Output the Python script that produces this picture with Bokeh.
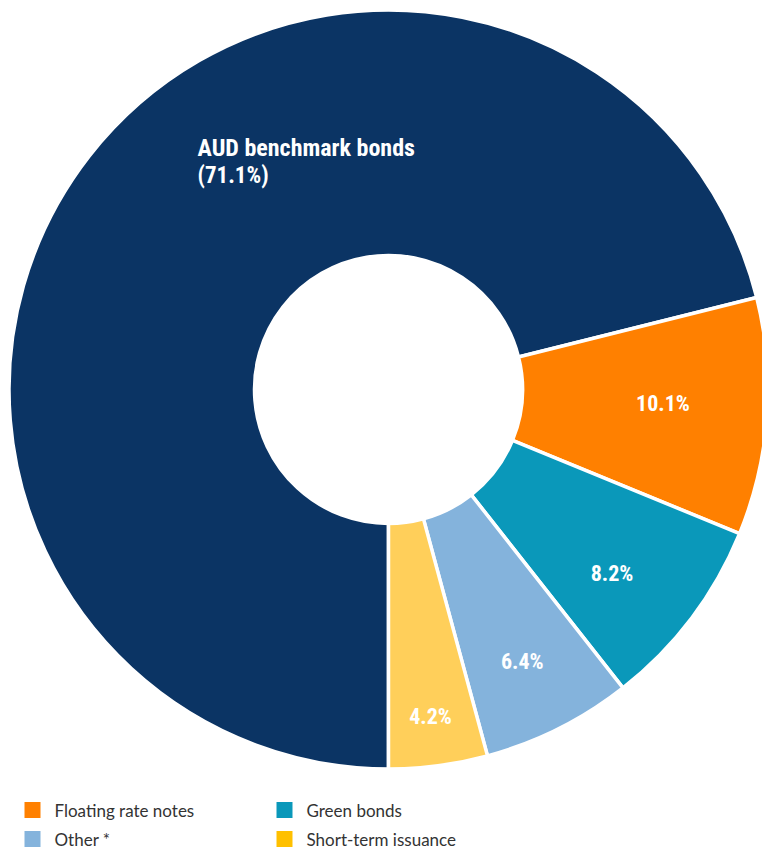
import math
from bokeh.plotting import figure
from bokeh.models import Range1d, ColumnDataSource
from bokeh.core.properties import value
from bokeh.embed import file_html
from bokeh.resources import INLINE

# ---- data ----
categories = ["AUD benchmark bonds", "Floating rate notes", "Green bonds", "Other *", "Short-term issuance"]
shares = [71.1, 10.1, 8.2, 6.4, 4.2]
slice_colors = ["#0B3464", "#FF8000", "#0A98BA", "#84B3DC", "#FFCF5A"]
legend_labels = ["Floating rate notes", "Green bonds", "Other *", "Short-term issuance"]
legend_colors = ["#FF8000", "#0A98BA", "#84B3DC", "#FFC000"]

# ---- layout ----
W, H = 762, 849
CX, CY = 388, 460
R_IN, R_OUT = 134, 379.5

p = figure(width=W, height=H, x_range=Range1d(0, W), y_range=Range1d(0, H),
           output_backend="svg", toolbar_location=None, min_border=0)
p.axis.visible = False
p.grid.visible = False
p.outline_line_color = None

total = sum(shares)
starts, ends, mids = [], [], []
cum = 0.0
for s in shares:
    a0 = -90 - cum / total * 360
    cum += s
    a1 = -90 - cum / total * 360
    starts.append(math.radians(a0))
    ends.append(math.radians(a1))
    mids.append((a0 + a1) / 2)

src = ColumnDataSource(dict(cat=categories, share=shares, color=slice_colors,
                            start=starts, end=ends))
p.annular_wedge(x=CX, y=CY, inner_radius=R_IN, outer_radius=R_OUT,
                start_angle="start", end_angle="end", direction="clock",
                fill_color="color", line_color="white", line_width=3.5, source=src)

label_font = value("Roboto Condensed")

# main slice label
p.text(x=[197], y=[701.5], text=[categories[0]], text_font=label_font, text_font_style="bold",
       text_font_size="24px", text_color="white", text_align="left", text_baseline="alphabetic")
p.text(x=[197], y=[674.5], text=["(%.1f%%)" % shares[0]], text_font=label_font, text_font_style="bold",
       text_font_size="23px", text_color="white", text_align="left", text_baseline="alphabetic")

# small slice labels
label_r = [274.8, 289.2, 303.1, 330.0]
label_nudge = [1.32, -2.31, -0.46, -0.25]
lx, ly, lt = [], [], []
for i in range(1, len(shares)):
    a = math.radians(mids[i] + label_nudge[i - 1])
    r = label_r[i - 1]
    lx.append(CX + r * math.cos(a))
    ly.append(CY + r * math.sin(a))
    lt.append("%.1f%%" % shares[i])
p.text(x=lx, y=ly, text=lt, text_font=label_font, text_font_style="bold",
       text_font_size="22px", text_color="white", text_align="center", text_baseline="alphabetic")

# legend (two columns)
col_x = [32, 284]
row_y = [39.5, 10.5]
sq_x, sq_y, tx, ty = [], [], [], []
for i in range(len(legend_labels)):
    c, r = i % 2, i // 2
    sq_x.append(col_x[c]); sq_y.append(row_y[r])
    tx.append(col_x[c] + 22); ty.append(row_y[r])
p.rect(x=sq_x, y=sq_y, width=16, height=16, fill_color=legend_colors, line_color=None)
p.text(x=tx, y=ty, text=legend_labels, text_font=value("Lato"), text_font_size="17px",
       text_color="#333333", text_align="left", text_baseline="alphabetic")

open("out.html", "w").write(file_html(p, INLINE))
